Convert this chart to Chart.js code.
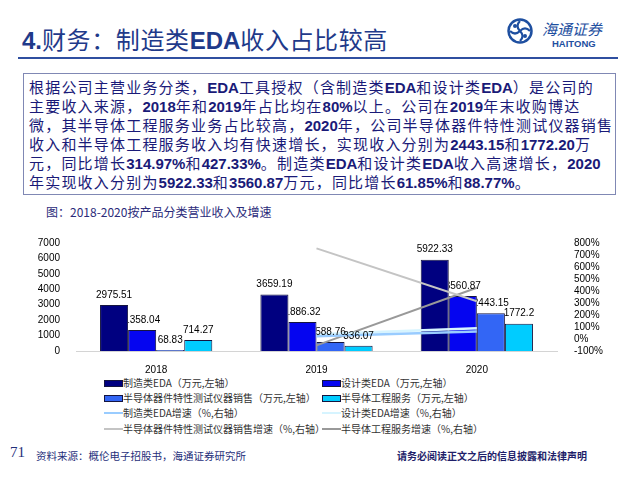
<!DOCTYPE html>
<html><head><meta charset="utf-8">
<script src="https://cdn.jsdelivr.net/npm/chart.js@4.4.0/dist/chart.umd.min.js"></script>
<style>
html,body{margin:0;padding:0;background:#fff;}
body{width:640px;height:480px;position:relative;overflow:hidden;font-family:"Noto Sans CJK SC","Liberation Sans",sans-serif;}
.abs{position:absolute;white-space:nowrap;}
.b{font-family:"Liberation Sans",Arial,sans-serif;font-weight:bold;letter-spacing:0;}
#title{left:22px;top:23px;font-size:24px;line-height:32px;color:#1F3A8A;letter-spacing:0.6px;}
#rule{left:18px;top:57px;width:600px;height:2px;background:#2F4FA0;}
#box{left:23px;top:73px;width:591px;height:120px;border:1px solid #8088B4;}
.tl{left:29px;font-size:15px;line-height:19px;color:#1A1A78;letter-spacing:1.2px;}
#sub{left:46px;top:204px;font-size:12px;line-height:16px;color:#2B2B7A;}
#wrap{position:absolute;left:20px;top:228px;width:600px;height:145px;}
.lg{position:absolute;font-size:10px;line-height:14px;color:#333;white-space:nowrap;}
.sym{position:absolute;}
#foot1{left:10px;top:444px;font-family:"Liberation Serif","Times New Roman",serif;font-size:15px;color:#1F2F7A;}
#foot2{left:36px;top:448px;font-size:10.5px;color:#1F2F7A;}
#foot3{left:397px;top:448px;font-size:10px;font-weight:bold;color:#1F1F6A;}
</style></head>
<body>
<div id="title" class="abs"><span class="b">4.</span>财务：制造类<span class="b">EDA</span>收入占比较高</div>
<svg class="abs" style="left:506px;top:17px" width="28" height="28" viewBox="0 0 28 28">
<circle cx="14" cy="14" r="11.5" fill="none" stroke="#1E4FA0" stroke-width="2.5"/>
<path d="M14 4 Q9 9 14 14 Q19 19 14 24" fill="none" stroke="#1E4FA0" stroke-width="2.2"/>
<path d="M4 14 Q9 19 14 14 Q19 9 24 14" fill="none" stroke="#1E4FA0" stroke-width="2.2"/>
<circle cx="9" cy="9" r="2" fill="#1E4FA0"/><circle cx="19" cy="19" r="2" fill="#1E4FA0"/>
</svg>
<div class="abs" style="left:542px;top:20px;font-size:15px;line-height:18px;color:#1E4FA0;font-style:italic;">海通证券</div>
<div class="abs b" style="left:552px;top:38px;font-size:9.5px;line-height:11px;color:#1E4FA0;">HAITONG</div>
<div id="rule" class="abs"></div>
<div id="box" class="abs"></div>
<div class="abs tl" style="top:77px">根据公司主营业务分类，<span class="b">EDA</span>工具授权（含制造类<span class="b">EDA</span>和设计类<span class="b">EDA</span>）是公司的</div>
<div class="abs tl" style="top:96px">主要收入来源，<span class="b">2018</span>年和<span class="b">2019</span>年占比均在<span class="b">80%</span>以上。公司在<span class="b">2019</span>年末收购博达</div>
<div class="abs tl" style="top:115px">微，其半导体工程服务业务占比较高，<span class="b">2020</span>年，公司半导体器件特性测试仪器销售</div>
<div class="abs tl" style="top:134px">收入和半导体工程服务收入均有快速增长，实现收入分别为<span class="b">2443.15</span>和<span class="b">1772.20</span>万</div>
<div class="abs tl" style="top:153px">元，同比增长<span class="b">314.97%</span>和<span class="b">427.33%</span>。制造类<span class="b">EDA</span>和设计类<span class="b">EDA</span>收入高速增长，<span class="b">2020</span></div>
<div class="abs tl" style="top:172px">年实现收入分别为<span class="b">5922.33</span>和<span class="b">3560.87</span>万元，同比增长<span class="b">61.85%</span>和<span class="b">88.77%</span>。</div>
<div id="sub" class="abs">图：2018-2020按产品分类营业收入及增速</div>
<div id="wrap"><canvas id="c"></canvas></div>
<div id="legend"></div>
<div id="foot1" class="abs">71</div>
<div id="foot2" class="abs">资料来源：概伦电子招股书，海通证券研究所</div>
<div id="foot3" class="abs">请务必阅读正文之后的信息披露和法律声明</div>
<script>
const categories = ['2018', '2019', '2020'];
const mfgEDA = [2975.51, 3659.19, 5922.33];
const designEDA = [1358.04, 1886.32, 3560.87];
const deviceTest = [68.83, 588.76, 2443.15];
const engService = [714.27, 336.07, 1772.2];
const mfgEDAGrowth = [null, 22.98, 61.85];
const designEDAGrowth = [null, 38.88, 88.77];
const deviceTestGrowth = [null, 755.39, 314.97];
const engServiceGrowth = [null, -52.95, 427.33];
const leftTicks = [0, 7000, 1000];
const rightTicks = [-100, 800, 100];

const barNames = ['制造类EDA（万元,左轴）', '设计类EDA（万元,左轴）', '半导体器件特性测试仪器销售（万元,左轴）', '半导体工程服务（万元,左轴）'];
const lineNames = ['制造类EDA增速（%,右轴）', '设计类EDA增速（%,右轴）', '半导体器件特性测试仪器销售增速（%,右轴）', '半导体工程服务增速（%,右轴）'];
const barColors = ['#000080', '#0505F0', '#3366F5', '#00CCFF'];
const lineColors = ['#99CCFF', '#D6F4FF', '#C4C4C4', '#999999'];

const barData = [mfgEDA, designEDA, deviceTest, engService];
const lineData = [mfgEDAGrowth, designEDAGrowth, deviceTestGrowth, engServiceGrowth];

const datasets = [];
barData.forEach((d, i) => datasets.push({
  type: 'bar', label: barNames[i], data: d, backgroundColor: barColors[i],
  borderColor: '#151540', borderWidth: 1, yAxisID: 'y', order: 2,
  categoryPercentage: 0.7, barPercentage: 1.0
}));
lineData.forEach((d, i) => datasets.push({
  type: 'line', label: lineNames[i], data: d, borderColor: lineColors[i],
  backgroundColor: lineColors[i], borderWidth: i < 2 ? 2.5 : 2, pointRadius: 0,
  yAxisID: 'y1', order: 1, spanGaps: false, tension: 0
}));

// value labels on top of lines, but hidden where they cross a bar (as in the reference)
const labelPlugin = {
  id: 'barLabels',
  afterDatasetsDraw(chart) {
    const ctx = chart.ctx;
    ctx.save();
    ctx.beginPath();
    ctx.rect(0, 0, chart.width, chart.height);
    chart.data.datasets.forEach((ds, di) => {
      if (ds.type !== 'bar') return;
      chart.getDatasetMeta(di).data.forEach(el => {
        ctx.rect(el.x - el.width / 2, el.y, el.width, el.base - el.y);
      });
    });
    ctx.clip('evenodd');
    ctx.font = '10px "Liberation Sans", Arial, sans-serif';
    ctx.fillStyle = '#000';
    ctx.textAlign = 'center';
    ctx.textBaseline = 'middle';
    chart.data.datasets.forEach((ds, di) => {
      if (ds.type !== 'bar') return;
      const meta = chart.getDatasetMeta(di);
      meta.data.forEach((el, j) => {
        ctx.fillText(String(ds.data[j]), el.x, el.y - 10);
      });
    });
    ctx.restore();
  }
};

const tickFont = { family: '"Liberation Sans", Arial, sans-serif', size: 10 };
new Chart(document.getElementById('c'), {
  type: 'bar',
  data: { labels: categories, datasets },
  plugins: [labelPlugin],
  options: {
    responsive: true, maintainAspectRatio: false, animation: false,
    layout: { padding: { top: 11, left: 0, right: 0, bottom: 0 } },
    plugins: { legend: { display: false }, tooltip: { enabled: false } },
    scales: {
      x: {
        grid: { display: false }, border: { display: true, color: '#D4D4D4', width: 1 },
        ticks: { font: tickFont, color: '#000', padding: 5 },
        afterFit(s) { s.height = 22; }
      },
      y: {
        position: 'left', min: leftTicks[0], max: leftTicks[1],
        grid: { display: false }, border: { display: false },
        ticks: { stepSize: leftTicks[2], font: tickFont, color: '#000', padding: 8, autoSkip: false, callback: v => String(v) },
        afterFit(s) { s.width = 56; }
      },
      y1: {
        position: 'right', min: rightTicks[0], max: rightTicks[1],
        grid: { display: false }, border: { display: false },
        ticks: { stepSize: rightTicks[2], font: tickFont, color: '#000', padding: 9, autoSkip: false, callback: v => v + '%' },
        afterFit(s) { s.width = 63; }
      }
    }
  }
});

// HTML legend built from the dataset definitions
const legendItems = [
  { name: barNames[0], color: barColors[0], bar: true }, { name: barNames[1], color: barColors[1], bar: true },
  { name: barNames[2], color: barColors[2], bar: true }, { name: barNames[3], color: barColors[3], bar: true },
  { name: lineNames[0], color: lineColors[0], bar: false }, { name: lineNames[1], color: lineColors[1], bar: false },
  { name: lineNames[2], color: lineColors[2], bar: false }, { name: lineNames[3], color: lineColors[3], bar: false }
];
const colX = [104, 322];
const rowY = [383, 398, 413, 429];
const lg = document.getElementById('legend');
legendItems.forEach((it, k) => {
  const cx = colX[k % 2], cy = rowY[Math.floor(k / 2)];
  const s = document.createElement('div');
  s.className = 'sym';
  if (it.bar) {
    s.style.cssText = `left:${cx}px;top:${cy - 3}px;width:17px;height:5px;background:${it.color};border:1px solid #151540;`;
  } else {
    s.style.cssText = `left:${cx}px;top:${cy - 1}px;width:19px;height:2px;background:${it.color};`;
  }
  lg.appendChild(s);
  const t = document.createElement('div');
  t.className = 'lg';
  t.style.left = (cx + 19) + 'px';
  t.style.top = (cy - 7) + 'px';
  t.textContent = it.name;
  lg.appendChild(t);
});
</script>
</body></html>
